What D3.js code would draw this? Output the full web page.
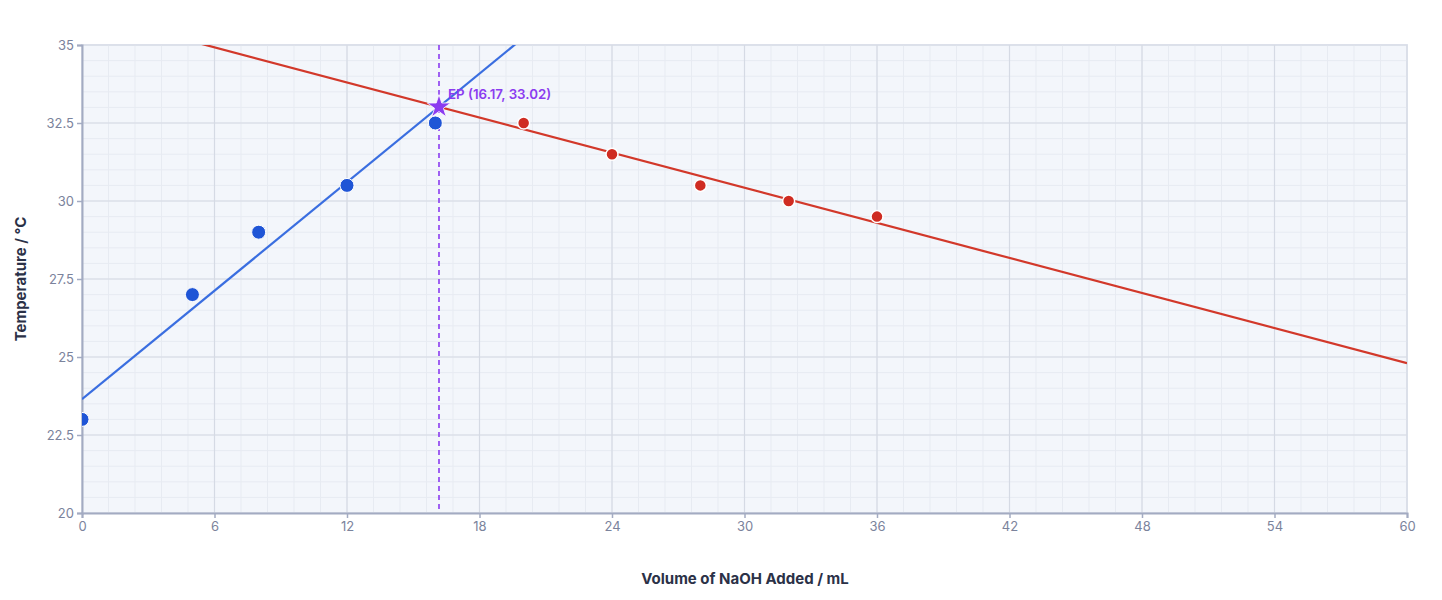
<!DOCTYPE html>
<html><head><meta charset="utf-8">
<script src="https://cdn.jsdelivr.net/npm/d3@7"></script>
<style>body{margin:0;background:#fff;font-family:Inter,"Noto Sans",sans-serif}</style>
</head><body><svg id="c" width="1442" height="600"></svg>
<script>
const beforeX = [0, 5, 8, 12, 16];
const beforeY = [23, 27, 29, 30.5, 32.5];
const afterX = [20, 24, 28, 32, 36];
const afterY = [32.5, 31.5, 30.5, 30, 29.5];
const xTicks = [0, 6, 12, 18, 24, 30, 36, 42, 48, 54, 60];
const yTicks = [20, 22.5, 25, 27.5, 30, 32.5, 35];
const yTickLabels = ["20", "22.5", "25", "27.5", "30", "32.5", "35"];
const xTitle = "Volume of NaOH Added / mL";
const yTitle = "Temperature / °C";

function fit(xs, ys) {
  const n = xs.length, mx = d3.mean(xs), my = d3.mean(ys);
  let sxy = 0, sxx = 0;
  for (let i = 0; i < n; i++) { sxy += (xs[i]-mx)*(ys[i]-my); sxx += (xs[i]-mx)**2; }
  const m = sxy/sxx; return {m, b: my - m*mx};
}
const f1 = fit(beforeX, beforeY), f2 = fit(afterX, afterY);
const epX = (f2.b - f1.b)/(f1.m - f2.m), epY = f1.m*epX + f1.b;

const L = 82, R = 1407, T = 45, B = 513;
const svg = d3.select("#c");
const x = d3.scaleLinear().domain([0, 60]).range([L, R]);
const y = d3.scaleLinear().domain([20, 35]).range([B, T]);

svg.append("rect").attr("x", L).attr("y", T).attr("width", R-L).attr("height", B-T)
  .attr("fill", "#f3f6fb").attr("stroke", "#dfe4ee").attr("stroke-width", 2);

const g = svg.append("g");
g.selectAll(".mx").data(d3.range(0, 60.01, 1.2)).enter().append("line")
  .attr("x1", d => x(d)).attr("x2", d => x(d)).attr("y1", T).attr("y2", B)
  .attr("stroke", "#e7ebf2").attr("stroke-width", 1);
g.selectAll(".my").data(d3.range(20, 35.01, 0.5)).enter().append("line")
  .attr("y1", d => y(d)).attr("y2", d => y(d)).attr("x1", L).attr("x2", R)
  .attr("stroke", "#e7ebf2").attr("stroke-width", 1);
g.selectAll(".Mx").data(xTicks).enter().append("line")
  .attr("x1", d => x(d)).attr("x2", d => x(d)).attr("y1", T).attr("y2", B)
  .attr("stroke", "#d5dae4").attr("stroke-width", 1.2);
g.selectAll(".My").data(yTicks).enter().append("line")
  .attr("y1", d => y(d)).attr("y2", d => y(d)).attr("x1", L).attr("x2", R)
  .attr("stroke", "#d5dae4").attr("stroke-width", 1.2);

const ax = svg.append("g").attr("transform", `translate(0,${B})`)
  .call(d3.axisBottom(x).tickValues(xTicks).tickSize(5).tickPadding(4));
const ay = svg.append("g").attr("transform", `translate(${L},0)`)
  .call(d3.axisLeft(y).tickValues(yTicks).tickFormat((d,i) => yTickLabels[i]).tickSize(5).tickPadding(3));
[ax, ay].forEach(a => {
  a.select(".domain").attr("stroke", "#a3abc2").attr("stroke-width", 2);
  a.selectAll(".tick line").attr("stroke", "#a3abc2").attr("stroke-width", 1.5);
  a.selectAll(".tick text").attr("fill", "#7b839c").attr("font-size", 13)
    .attr("font-family", "Inter, sans-serif");
});

svg.append("clipPath").attr("id", "clip").append("rect")
  .attr("x", L).attr("y", T).attr("width", R-L).attr("height", B-T);
const pg = svg.append("g").attr("clip-path", "url(#clip)");

pg.append("line").attr("x1", x(epX)).attr("x2", x(epX)).attr("y1", T).attr("y2", B)
  .attr("stroke", "#8b3cf0").attr("stroke-width", 1.6).attr("stroke-dasharray", "5,4");

const line = d3.line().x(d => x(d[0])).y(d => y(d[1]));
pg.append("path").datum([[0, f1.b], [30, f1.m*30 + f1.b]]).attr("d", line)
  .attr("fill", "none").attr("stroke", "#3a6ee0").attr("stroke-width", 2.2);
pg.append("path").datum([[0, f2.b], [60, f2.m*60 + f2.b]]).attr("d", line)
  .attr("fill", "none").attr("stroke", "#d2382a").attr("stroke-width", 2.2);

const ptsG = svg.append("g").attr("clip-path", "url(#clip)");
ptsG.selectAll(".b").data(beforeX.map((d,i) => [d, beforeY[i]])).enter().append("circle")
  .attr("cx", d => x(d[0])).attr("cy", d => y(d[1])).attr("r", 7)
  .attr("fill", "#1f55d6").attr("stroke", "#ffffff").attr("stroke-width", 1);
ptsG.selectAll(".r").data(afterX.map((d,i) => [d, afterY[i]])).enter().append("circle")
  .attr("cx", d => x(d[0])).attr("cy", d => y(d[1])).attr("r", 6)
  .attr("fill", "#cf2c22").attr("stroke", "#ffffff").attr("stroke-width", 1.5);

svg.append("path").attr("d", d3.symbol(d3.symbolStar, 170)())
  .attr("transform", `translate(${x(epX)},${y(epY)})`)
  .attr("fill", "#8b3cf0").attr("stroke", "#ffffff").attr("stroke-width", 0.8);
svg.append("text").attr("x", x(epX) + 9).attr("y", y(epY) - 8)
  .attr("fill", "#8b3cf0").attr("font-size", 13.3).attr("font-weight", 600)
  .attr("font-family", "Inter, sans-serif")
  .text(`EP (${epX.toFixed(2)}, ${epY.toFixed(2)})`);

svg.append("text").attr("x", 745).attr("y", 584).attr("text-anchor", "middle")
  .attr("fill", "#2b3147").attr("font-size", 15).attr("font-weight", 700)
  .attr("font-family", "Inter, sans-serif").text(xTitle);
svg.append("text").attr("transform", `translate(26,${(T+B)/2}) rotate(-90)`)
  .attr("text-anchor", "middle").attr("fill", "#2b3147").attr("font-size", 15)
  .attr("font-weight", 700).attr("font-family", "Inter, sans-serif").text(yTitle);
</script></body></html>
